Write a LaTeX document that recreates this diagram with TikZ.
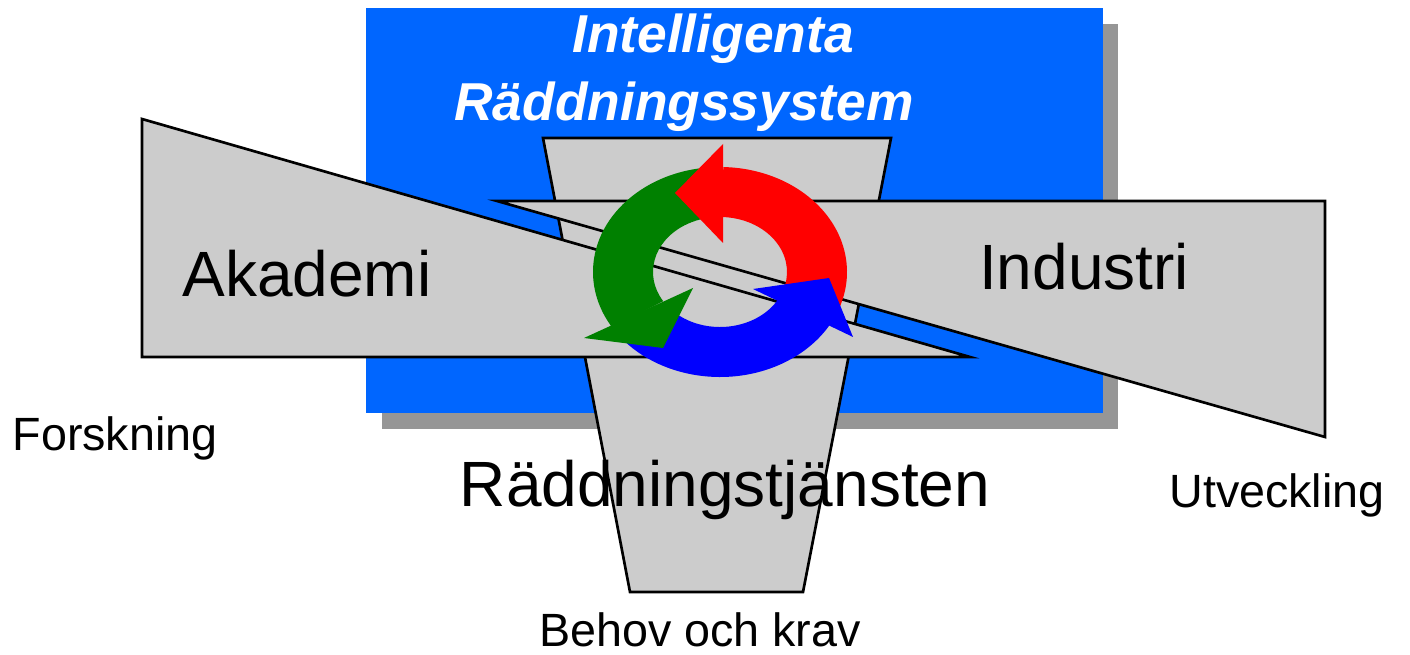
\documentclass[tikz,border=0pt]{standalone}
\usepackage{fontspec}
\setmainfont{Liberation Sans}
\usepackage{tikz}
\definecolor{boxblue}{RGB}{0,102,255}
\definecolor{shadowgray}{RGB}{150,150,150}
\definecolor{wedgegray}{RGB}{204,204,204}
\definecolor{ringred}{RGB}{255,0,0}
\definecolor{ringgreen}{RGB}{0,128,0}
\definecolor{ringblue}{RGB}{0,0,255}
\tikzset{
  wedge/.style={draw=black, fill=wedgegray, line width=2pt},
  biglabel/.style={anchor=base, inner sep=0pt, font=\fontsize{48}{48}\selectfont},
  smalllabel/.style={anchor=base, inner sep=0pt, font=\fontsize{35}{35}\selectfont},
  titlelabel/.style={anchor=base, inner sep=0pt, text=white, font=\fontsize{40}{40}\selectfont\bfseries\itshape}
}

\begin{document}
\begin{tikzpicture}[x=0.75pt, y=-0.75pt]
    \useasboundingbox (0, 0) rectangle (1410, 655);
    % blue box with its shadow
    \fill[shadowgray] (382, 24) rectangle (1118, 429);
    \fill[boxblue] (366, 8) rectangle (1103, 413);
    \node[titlelabel] (title1) at (713, 53) {Intelligenta};
    \node[titlelabel] (title2) at (684, 121) {Räddningssystem};
    % the three wedges
    \draw[wedge] (543, 138) -- (891, 138) -- (803, 592) -- (630, 592) -- cycle;
    \draw[wedge] (497, 201) -- (1325, 201) -- (1325, 437) -- cycle;
    \draw[wedge] (142, 119) -- (970, 357) -- (142, 357) -- cycle;
    % ring of arrows
    \begin{scope}[shift={(720, 272)}]
      \fill[ringred] (20:127 and 105) arc[start angle=20, end angle=-88.5, x radius=127, y radius=105]
        -- (-88.5:67 and 55) arc[start angle=-88.5, end angle=20, x radius=67, y radius=55] -- cycle;
      \fill[ringgreen] (-92:127 and 105) arc[start angle=-92, end angle=-212, x radius=127, y radius=105]
        -- (-212:67 and 55) arc[start angle=-212, end angle=-92, x radius=67, y radius=55] -- cycle;
      \fill[ringblue] (145:127 and 105) arc[start angle=145, end angle=29, x radius=127, y radius=105]
        -- (29:67 and 55) arc[start angle=29, end angle=145, x radius=67, y radius=55] -- cycle;
    \end{scope}
    \fill[ringred] (723, 144) -- (675, 193) -- (723, 243) -- cycle;
    \fill[ringgreen] (584, 338) -- (663, 348) -- (693, 288) -- cycle;
    \fill[ringblue] (753, 289) -- (829, 278) -- (853, 337) -- cycle;
    % labels
    \node[biglabel] (akademi) at (307, 297) {Akademi};
    \node[biglabel] (industri) at (1084, 290) {Industri};
    \node[biglabel] (raddning) at (725, 507) {Räddningstjänsten};
    \node[smalllabel] (forskning) at (115, 451) {Forskning};
    \node[smalllabel] (utveckling) at (1277, 508) {Utveckling};
    \node[smalllabel] (behov) at (700, 646) {Behov och krav};
\end{tikzpicture}
\end{document}
